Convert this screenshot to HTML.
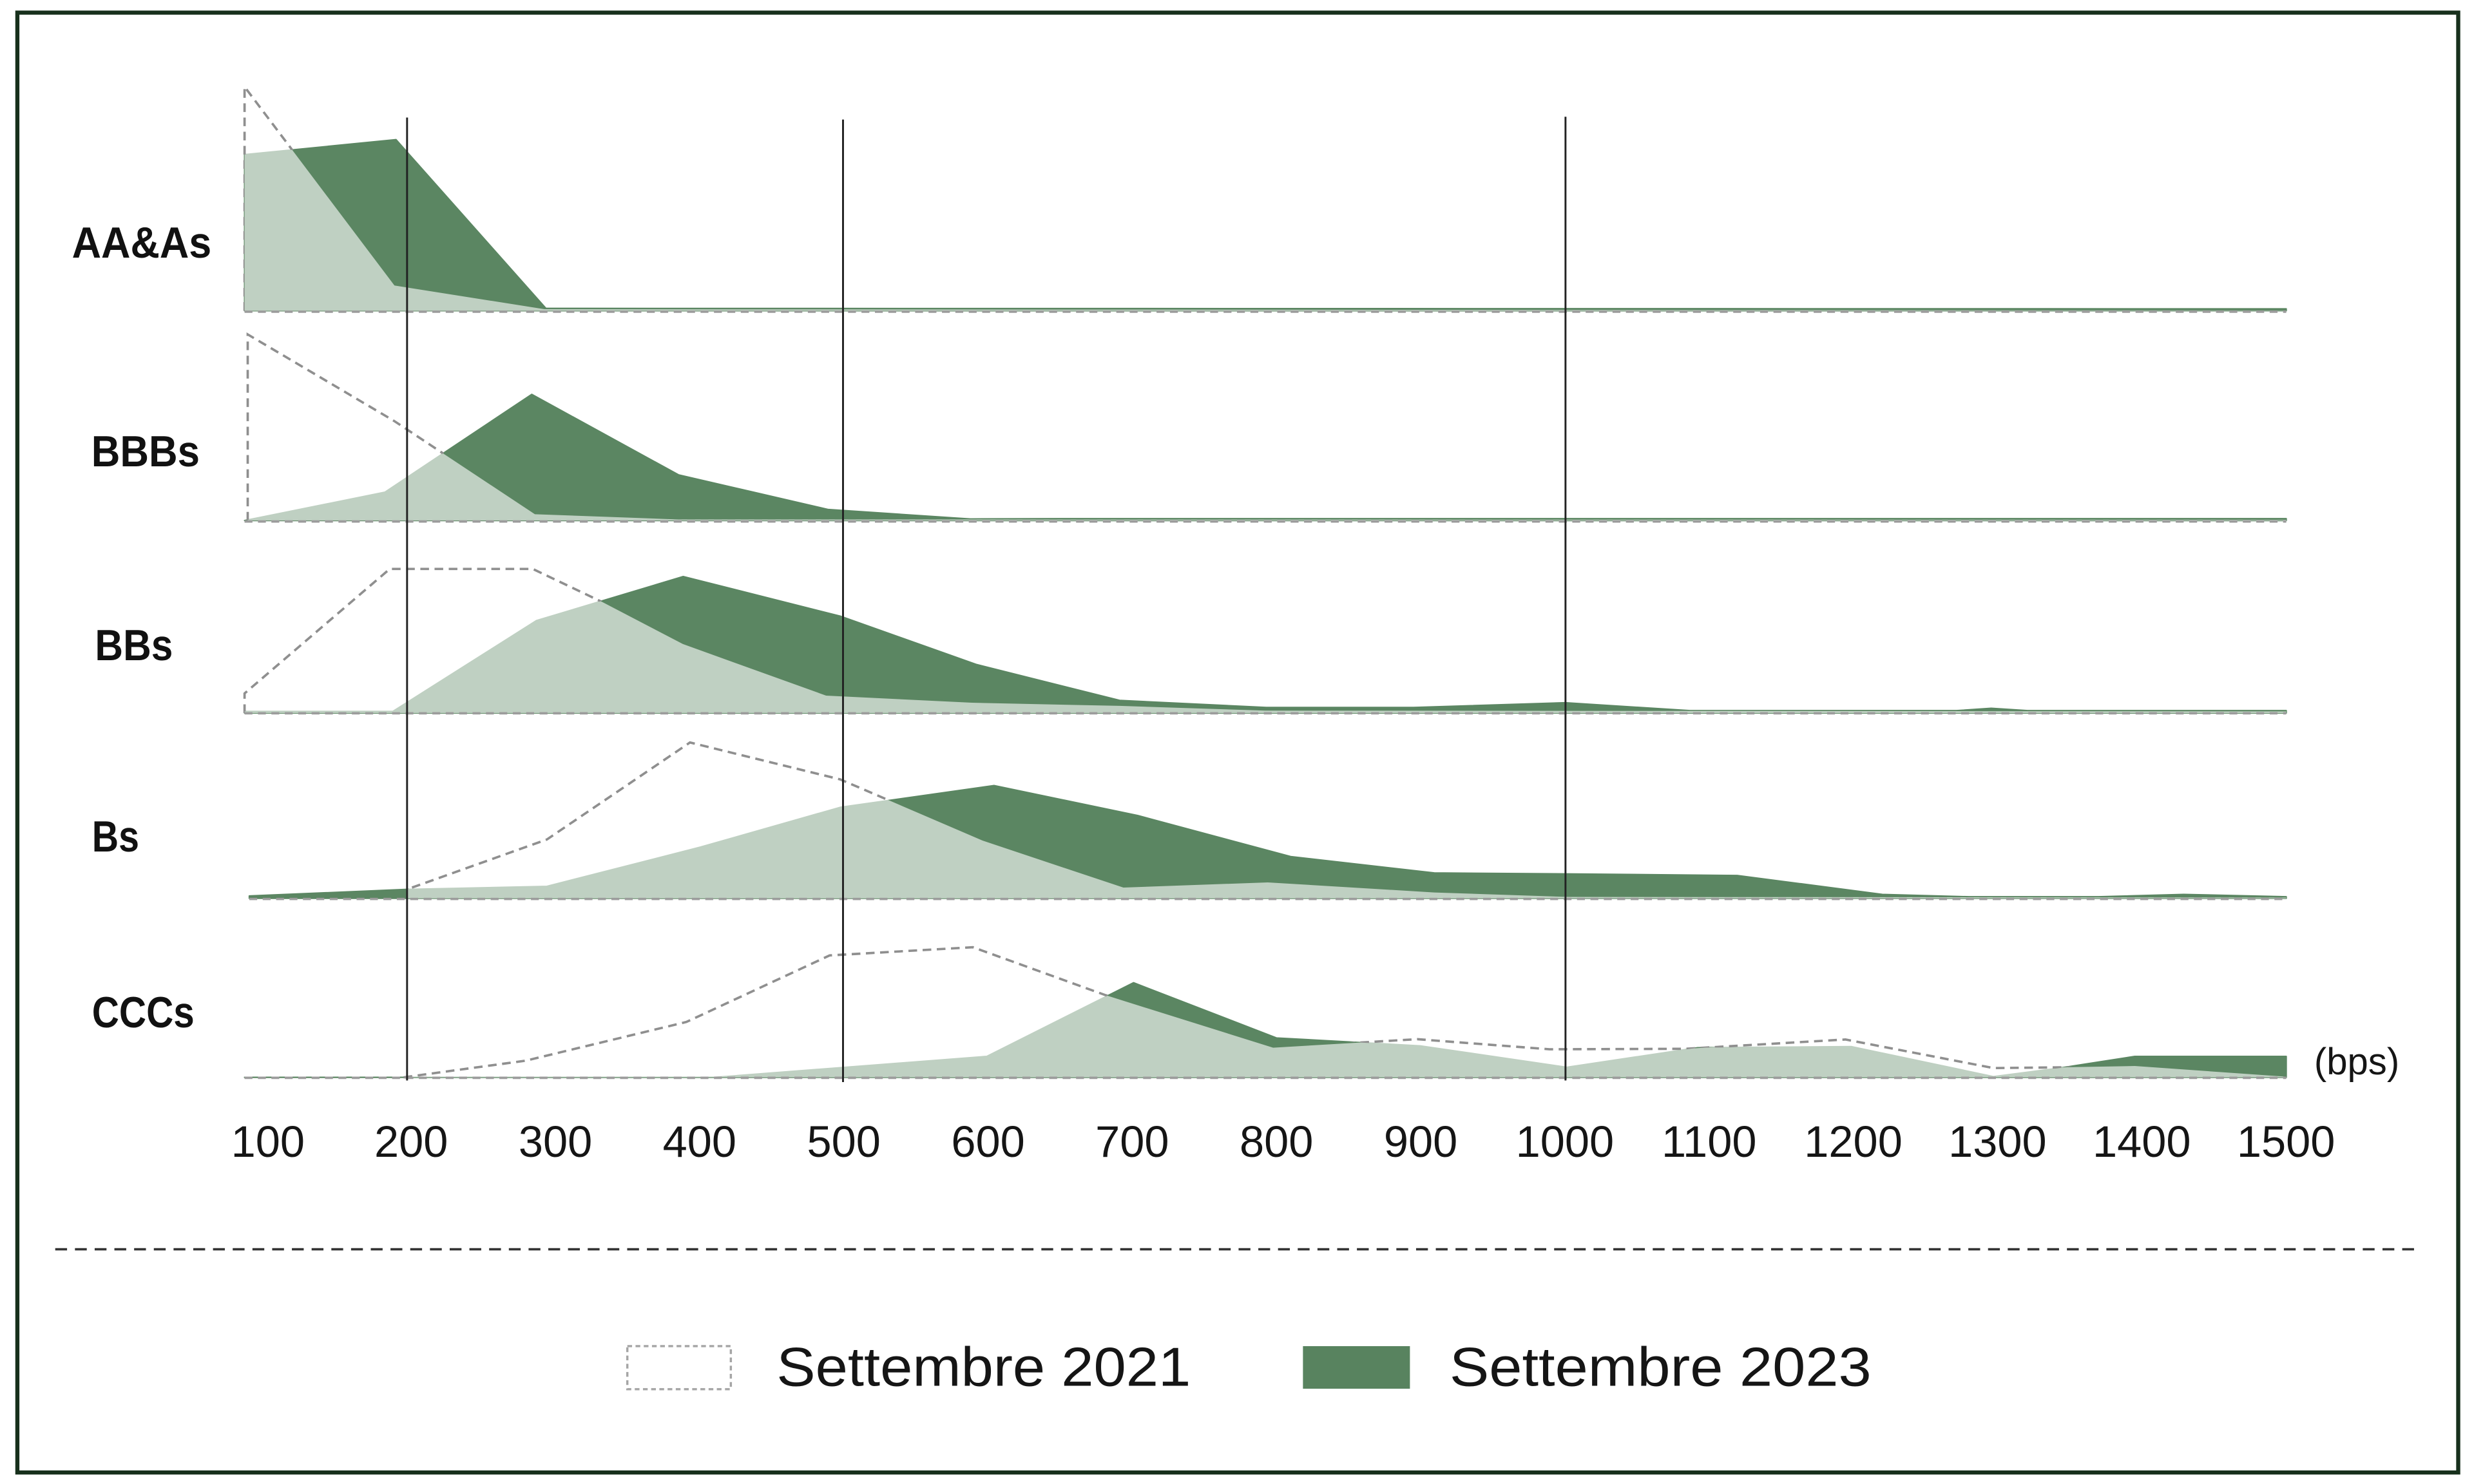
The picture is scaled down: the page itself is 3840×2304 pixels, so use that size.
<!DOCTYPE html>
<html>
<head>
<meta charset="utf-8">
<style>
html,body{margin:0;padding:0;background:#ffffff;}
svg{display:block;}
text{font-family:"Liberation Sans", Arial, sans-serif;}
</style>
</head>
<body>
<svg xmlns="http://www.w3.org/2000/svg" width="3840" height="2304" viewBox="0 0 1568 940.8">
  <defs>
    <mask id="hideInDark" maskUnits="userSpaceOnUse" x="0" y="0" width="1568" height="941">
      <rect x="0" y="0" width="1568" height="941" fill="#fff"/>
      <polygon fill="#000" points="155,197 155,98 251,88.5 346,195.5 1449,195.8 1449,197"/>
      <polygon fill="#000" points="155,330 244,312 337,250 430,301 525,323 615,329 673,328.8 1449,328.8 1449,330"/>
      <polygon fill="#000" points="155,452 155,451 249,451 340,393.4 433,365.5 532.5,390.6 619,421.3 709.6,444 802.5,448.5 896,448.5 992,445.5 1071,450.5 1240,450.5 1262,449 1285,450.5 1449,450.5 1449,452"/>
      <polygon fill="#000" points="158,569.5 158,568 258,563.8 346.6,561.9 444,537 532.5,511.8 630,498 721,517 818,543 909,553.4 992,554 1101,555 1193,567 1248,568.5 1330,568.5 1384,567 1449,568.5 1449,569.5"/>
      <polygon fill="#000" points="155,683 452.8,683 625.4,669.7 718.4,623 809,658 900,663 993,676.6 1076,664.2 1173.5,663.5 1263.4,682.5 1306,677 1353,669.7 1449,669.7 1449,683"/>
    </mask>
  </defs>

  <!-- outer border -->
  <rect x="11" y="8" width="1547" height="925.5" fill="#ffffff" stroke="#17301c" stroke-width="2.6"/>

  <!-- Settembre 2023 areas (dark) -->
  <g fill="#5b8662" stroke="#5b8662" stroke-width="0.9" stroke-linejoin="round">
    <polygon points="155,197 155,98 251,88.5 346,195.5 1449,195.8 1449,197"/>
    <polygon points="155,330 244,312 337,250 430,301 525,323 615,329 673,328.8 1449,328.8 1449,330"/>
    <polygon points="155,452 155,451 249,451 340,393.4 433,365.5 532.5,390.6 619,421.3 709.6,444 802.5,448.5 896,448.5 992,445.5 1071,450.5 1240,450.5 1262,449 1285,450.5 1449,450.5 1449,452"/>
    <polygon points="158,569.5 158,568 258,563.8 346.6,561.9 444,537 532.5,511.8 630,498 721,517 818,543 909,553.4 992,554 1101,555 1193,567 1248,568.5 1330,568.5 1384,567 1449,568.5 1449,569.5"/>
    <polygon points="155,683 452.8,683 625.4,669.7 718.4,623 809,658 900,663 993,676.6 1076,664.2 1173.5,663.5 1263.4,682.5 1306,677 1353,669.7 1449,669.7 1449,683"/>
  </g>

  <!-- Settembre 2021 areas (white translucent overlay -> light green in overlap) -->
  <g fill="#ffffff" fill-opacity="0.61">
    <polygon points="155,197 155,55 250,181 345,196 1449,196.8 1449,197"/>
    <polygon points="157,330 157,212 250,267 339,326 430,329.3 1449,329.5 1449,330"/>
    <polygon points="155,452 155,439.6 247,360.7 337.7,360.7 382,381.8 432.8,408.3 523.6,441 616,445.5 709.6,447.5 802,450.5 1449,451 1449,452"/>
    <polygon points="258,569.5 258,563.8 346.6,532.2 437.3,470.7 532.5,494.1 623,533 712,562.7 803.5,559.4 909,565.8 993,568.6 1449,569 1449,569.5"/>
    <polygon points="155,683 255.8,683 333.3,672.4 435,647.9 525.8,605.7 616.6,600.5 700.7,630.9 806.9,664.2 898.3,658.8 982,665.2 1068,664.9 1169.6,659 1263.4,677.1 1302.5,676.7 1353,675.8 1449,682.6 1449,683"/>
  </g>

  <!-- Settembre 2021 dashed outlines -->
  <g fill="none" stroke="#8f8f8f" stroke-width="1.5" stroke-dasharray="5.5 3.5" mask="url(#hideInDark)">
    <polyline points="155,197 155,55 250,181 345,196"/>
    <polyline points="157,330 157,212 250,267 339,326"/>
    <polyline points="155,452 155,439.6 247,360.7 337.7,360.7 382,381.8 432.8,408.3 523.6,441 616,445.5 709.6,447.5 802,450.5"/>
    <polyline points="258,569.5 258,563.8 346.6,532.2 437.3,470.7 532.5,494.1 623,533 712,562.7 803.5,559.4 909,565.8 993,568.6"/>
    <polyline points="255.8,683 333.3,672.4 435,647.9 525.8,605.7 616.6,600.5 700.7,630.9 806.9,664.2 898.3,658.8 982,665.2 1068,664.9 1169.6,659 1263.4,677.1 1302.5,676.7 1353,675.8 1449,682.6"/>
  </g>
  <!-- dashed baselines -->
  <g fill="none" stroke="#9c9c9c" stroke-width="1.5" stroke-dasharray="5 3.5">
    <line x1="155" y1="197.6" x2="1449" y2="197.6"/>
    <line x1="155" y1="330.6" x2="1449" y2="330.6"/>
    <line x1="155" y1="452.2" x2="1449" y2="452.2"/>
    <line x1="158" y1="569.9" x2="1449" y2="569.9"/>
    <line x1="155" y1="683.3" x2="1449" y2="683.3"/>
  </g>

  <!-- vertical reference lines -->
  <g stroke="#222" stroke-width="1.2">
    <line x1="258" y1="74.5" x2="258" y2="685"/>
    <line x1="534.3" y1="75.8" x2="534.3" y2="686"/>
    <line x1="992.2" y1="74" x2="992.2" y2="685"/>
  </g>

  <!-- category labels -->
  <g font-weight="bold" font-size="27.5" fill="#111">
    <text x="45.6" y="163.3" textLength="88.4" lengthAdjust="spacingAndGlyphs">AA&amp;As</text>
    <text x="57.9" y="295.6" textLength="68.7" lengthAdjust="spacingAndGlyphs">BBBs</text>
    <text x="60.2" y="418.6" textLength="49.4" lengthAdjust="spacingAndGlyphs">BBs</text>
    <text x="58.3" y="539.8" textLength="29.9" lengthAdjust="spacingAndGlyphs">Bs</text>
    <text x="58.3" y="651.3" textLength="64.9" lengthAdjust="spacingAndGlyphs">CCCs</text>
  </g>

  <!-- x tick labels -->
  <g font-size="28" fill="#151515" text-anchor="middle">
    <text x="169.8" y="733.4">100</text>
    <text x="260.6" y="733.4">200</text>
    <text x="352" y="733.4">300</text>
    <text x="443.4" y="733.4">400</text>
    <text x="534.8" y="733.4">500</text>
    <text x="626.2" y="733.4">600</text>
    <text x="717.6" y="733.4">700</text>
    <text x="809" y="733.4">800</text>
    <text x="900.4" y="733.4">900</text>
    <text x="991.8" y="733.4">1000</text>
    <text x="1083.2" y="733.4">1100</text>
    <text x="1174.6" y="733.4">1200</text>
    <text x="1266" y="733.4">1300</text>
    <text x="1357.4" y="733.4">1400</text>
    <text x="1448.8" y="733.4">1500</text>
  </g>
  <text x="1466.7" y="681" font-size="24" fill="#151515" textLength="54" lengthAdjust="spacingAndGlyphs">(bps)</text>

  <!-- separator -->
  <line x1="35" y1="792" x2="1530" y2="792" stroke="#333" stroke-width="1.5" stroke-dasharray="7.5 5"/>

  <!-- legend -->
  <rect x="397.6" y="853.4" width="65.6" height="27.3" fill="#ffffff" stroke="#a5a5a5" stroke-width="1.4" stroke-dasharray="3 2.2"/>
  <text x="492.2" y="878.6" font-size="35" fill="#151515" textLength="262.5" lengthAdjust="spacingAndGlyphs">Settembre 2021</text>
  <rect x="825.8" y="853.4" width="67.8" height="27" fill="#58835f"/>
  <text x="918.7" y="878.6" font-size="35" fill="#151515" textLength="267.4" lengthAdjust="spacingAndGlyphs">Settembre 2023</text>
</svg>
</body>
</html>
